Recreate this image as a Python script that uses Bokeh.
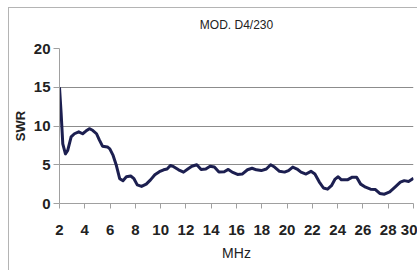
from bokeh.plotting import figure
from bokeh.models import Range1d, FixedTicker, SingleIntervalTicker, LinearAxis
from bokeh.embed import file_html
from bokeh.resources import INLINE

title_text = "MOD. D4/230"
x_label = "MHz"
y_label = "SWR"

freq_mhz = [2.0, 2.13, 2.26, 2.47, 2.65, 2.92, 3.18, 3.52, 3.83, 4.09, 4.36, 4.62,
            4.93, 5.14, 5.40, 5.79, 5.98, 6.24, 6.50, 6.76, 7.02, 7.29, 7.63, 7.89,
            8.15, 8.49, 8.86, 9.20, 9.54, 9.90, 10.24, 10.51, 10.77, 11.03, 11.42,
            11.81, 12.15, 12.47, 12.86, 13.20, 13.57, 13.91, 14.25, 14.61, 15.03,
            15.35, 15.66, 16.08, 16.45, 16.87, 17.23, 17.57, 17.96, 18.36, 18.70,
            19.01, 19.40, 19.80, 20.11, 20.45, 20.79, 21.10, 21.50, 21.89, 22.20,
            22.54, 22.88, 23.20, 23.51, 23.80, 24.04, 24.30, 24.77, 25.16, 25.50,
            25.82, 26.21, 26.60, 26.99, 27.33, 27.70, 28.12, 28.56, 28.96, 29.27,
            29.61, 30.0]
swr = [15.0, 11.6, 7.7, 6.4, 6.85, 8.6, 9.0, 9.25, 9.0, 9.35, 9.65, 9.45,
       9.0, 8.25, 7.4, 7.3, 7.05, 6.2, 4.9, 3.2, 2.95, 3.45, 3.55, 3.2,
       2.4, 2.2, 2.5, 3.05, 3.7, 4.1, 4.35, 4.45, 4.9, 4.75, 4.35,
       4.05, 4.45, 4.8, 5.0, 4.4, 4.45, 4.8, 4.7, 4.05, 4.1,
       4.4, 4.05, 3.75, 3.8, 4.35, 4.55, 4.35, 4.25, 4.45, 5.0,
       4.7, 4.15, 4.05, 4.25, 4.7, 4.45, 4.05, 3.8, 4.15, 3.8,
       2.8, 2.0, 1.85, 2.3, 3.15, 3.45, 3.05, 3.05, 3.4, 3.4,
       2.5, 2.1, 1.85, 1.8, 1.3, 1.2, 1.5, 2.15, 2.75, 2.95,
       2.85, 3.25]

x_start, x_end, x_step = 2, 30, 2
y_start, y_end, y_step = 0, 20, 5
grid_levels = [0, 5, 10, 15]

FONT = "Liberation Sans"
GREY = "#a0a0a0"
TEXT = "#222222"

p = figure(width=409, height=263, output_backend="svg", toolbar_location=None,
           x_range=Range1d(x_start, x_end), y_range=Range1d(y_start, y_end),
           min_border_left=47, min_border_right=5, min_border_top=40,
           min_border_bottom=68, outline_line_color=None,
           background_fill_color="white", border_fill_color="white")
p.styles = {"margin-left": "8px", "margin-top": "7px",
            "border-left": "1px solid #b4b4b4", "border-top": "1px solid #b4b4b4"}

main_x = p.below[0]
main_y = p.left[0]

# chart title drawn as the label of a bare axis above the plot area
title_axis = LinearAxis(ticker=FixedTicker(ticks=[]), axis_line_color=None,
                        major_tick_line_color=None, minor_tick_line_color=None,
                        major_tick_out=0, major_tick_in=0, major_label_standoff=0,
                        major_label_text_font_size="0px",
                        major_label_text_color=None,
                        axis_label=title_text, axis_label_standoff=17,
                        axis_label_text_font=FONT, axis_label_text_font_size="12px",
                        axis_label_text_font_style="normal",
                        axis_label_text_color=TEXT)
p.add_layout(title_axis, "above")

p.line(freq_mhz, swr, line_color="#1c1f50", line_width=3, line_join="round")

main_x.ticker = SingleIntervalTicker(interval=x_step)
main_y.ticker = SingleIntervalTicker(interval=y_step)
p.xgrid.visible = False
p.ygrid.ticker = FixedTicker(ticks=grid_levels)
p.ygrid.grid_line_color = "#8c8c8c"
p.ygrid.grid_line_width = 1

for ax in (main_x, main_y):
    ax.axis_line_color = GREY
    ax.major_tick_line_color = GREY
    ax.minor_tick_line_color = None
    ax.major_tick_in = 0
    ax.major_label_text_font = FONT
    ax.major_label_text_font_style = "bold"
    ax.major_label_text_font_size = "15px"
    ax.major_label_text_color = TEXT
    ax.axis_label_text_font = FONT
    ax.axis_label_text_color = TEXT

main_x.major_tick_out = 5
main_x.major_label_standoff = 16
main_x.axis_label = x_label
main_x.axis_label_standoff = 7
main_x.axis_label_text_font_style = "normal"
main_x.axis_label_text_font_size = "14px"

main_y.major_tick_out = 6
main_y.major_label_standoff = 3
main_y.axis_label = y_label
main_y.axis_label_standoff = 3
main_y.axis_label_text_font_style = "bold"
main_y.axis_label_text_font_size = "13px"

open("out.html", "w").write(file_html(p, INLINE))
